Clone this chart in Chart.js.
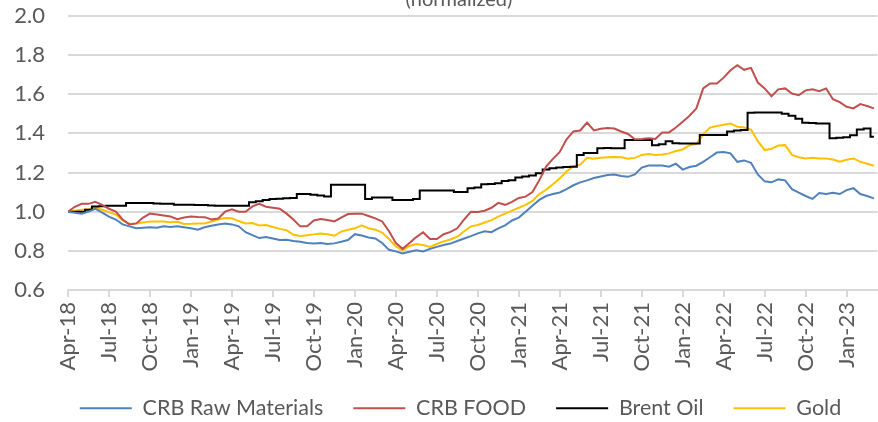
<!DOCTYPE html>
<html>
<head>
<meta charset="utf-8">
<script src="https://cdn.jsdelivr.net/npm/chart.js@4.4.1/dist/chart.umd.min.js"></script>
<style>
  html, body { margin: 0; padding: 0; background: #ffffff; }
  #wrap { width: 878px; height: 422px; position: relative; overflow: hidden; }
  canvas { display: block; }
</style>
</head>
<body>
<div id="wrap"><canvas id="c" width="878" height="422"></canvas></div>
<script>
// Quarterly tick labels (x value = months since Apr-18, every 3 months)
const tickLabels = ["Apr-18","Jul-18","Oct-18","Jan-19","Apr-19","Jul-19","Oct-19","Jan-20","Apr-20","Jul-20",
  "Oct-20","Jan-21","Apr-21","Jul-21","Oct-21","Jan-22","Apr-22","Jul-22","Oct-22","Jan-23"];

// Series sampled every half month from Apr-18
const crbRaw = [
  1.00,0.995,0.99,1.00,1.015,0.995,0.975,0.96,0.935,0.925,
  0.915,0.918,0.92,0.918,0.925,0.922,0.925,0.92,0.915,0.908,
  0.92,0.928,0.935,0.94,0.935,0.925,0.895,0.88,0.865,0.87,
  0.863,0.855,0.857,0.85,0.846,0.84,0.837,0.84,0.835,0.838,
  0.846,0.855,0.885,0.878,0.868,0.863,0.84,0.805,0.797,0.786,
  0.795,0.803,0.797,0.81,0.82,0.83,0.837,0.85,0.863,0.875,
  0.889,0.90,0.895,0.915,0.93,0.955,0.97,1.00,1.03,1.06,
  1.08,1.09,1.098,1.115,1.135,1.15,1.16,1.172,1.18,1.187,
  1.19,1.182,1.178,1.19,1.225,1.236,1.236,1.236,1.23,1.245,
  1.215,1.228,1.235,1.255,1.278,1.302,1.305,1.298,1.255,1.262,
  1.25,1.19,1.155,1.15,1.165,1.16,1.115,1.097,1.08,1.065,
  1.095,1.09,1.097,1.09,1.11,1.12,1.09,1.08,1.068
];
const crbFood = [
  1.00,1.025,1.04,1.04,1.05,1.035,1.015,1.00,0.96,0.935,
  0.94,0.97,0.99,0.985,0.98,0.975,0.962,0.97,0.975,0.973,
  0.972,0.96,0.965,1.00,1.012,1.00,1.00,1.027,1.04,1.025,
  1.02,1.015,0.99,0.96,0.925,0.925,0.955,0.962,0.957,0.95,
  0.97,0.988,0.99,0.99,0.978,0.966,0.95,0.90,0.84,0.81,
  0.84,0.87,0.895,0.86,0.86,0.885,0.897,0.915,0.96,1.00,
  0.998,1.005,1.02,1.045,1.035,1.05,1.07,1.077,1.10,1.16,
  1.23,1.27,1.305,1.37,1.41,1.415,1.455,1.415,1.424,1.428,
  1.425,1.41,1.397,1.37,1.372,1.375,1.372,1.405,1.405,1.43,
  1.46,1.49,1.528,1.63,1.655,1.655,1.685,1.723,1.749,1.725,
  1.735,1.66,1.63,1.59,1.625,1.63,1.604,1.595,1.62,1.625,
  1.616,1.63,1.575,1.56,1.536,1.528,1.55,1.54,1.528
];
const brentOil = [
  1.00,1.00,1.00,1.01,1.027,1.028,1.03,1.03,1.03,1.044,
  1.044,1.044,1.044,1.042,1.04,1.04,1.036,1.036,1.036,1.034,
  1.034,1.032,1.03,1.03,1.03,1.03,1.03,1.048,1.053,1.06,
  1.065,1.066,1.068,1.07,1.09,1.09,1.086,1.083,1.078,1.137,
  1.137,1.137,1.137,1.137,1.065,1.073,1.073,1.073,1.06,1.06,
  1.06,1.065,1.108,1.108,1.108,1.108,1.108,1.10,1.10,1.12,
  1.123,1.14,1.142,1.145,1.157,1.16,1.175,1.18,1.185,1.196,
  1.216,1.222,1.226,1.228,1.23,1.29,1.30,1.30,1.324,1.326,
  1.324,1.324,1.366,1.366,1.366,1.366,1.34,1.345,1.36,1.35,
  1.349,1.349,1.349,1.392,1.392,1.392,1.392,1.41,1.415,1.417,
  1.505,1.507,1.507,1.507,1.507,1.50,1.49,1.475,1.455,1.453,
  1.451,1.451,1.375,1.378,1.38,1.39,1.42,1.425,1.383
];
const gold = [
  1.00,1.005,1.01,1.012,1.02,1.01,0.998,0.985,0.955,0.937,
  0.94,0.945,0.95,0.95,0.95,0.946,0.948,0.937,0.938,0.94,
  0.94,0.95,0.96,0.968,0.966,0.952,0.94,0.942,0.93,0.932,
  0.922,0.912,0.905,0.882,0.876,0.88,0.884,0.889,0.885,0.877,
  0.898,0.908,0.915,0.93,0.915,0.908,0.893,0.86,0.822,0.803,
  0.825,0.835,0.83,0.82,0.835,0.848,0.858,0.872,0.90,0.925,
  0.932,0.945,0.957,0.975,0.99,1.005,1.02,1.035,1.055,1.09,
  1.112,1.14,1.17,1.205,1.232,1.24,1.275,1.27,1.275,1.278,
  1.28,1.278,1.27,1.275,1.29,1.295,1.29,1.292,1.298,1.31,
  1.318,1.34,1.345,1.395,1.43,1.438,1.444,1.451,1.434,1.43,
  1.42,1.36,1.315,1.322,1.338,1.34,1.29,1.278,1.272,1.275,
  1.272,1.272,1.267,1.255,1.265,1.272,1.255,1.245,1.235
];

const STEP = 0.5; // months between samples
const toPts = arr => arr.map((v, i) => ({ x: i * STEP, y: v }));

const FONT = "Lato, 'Open Sans', sans-serif";
const TXT = "#595959";

const topTitle = {
  id: 'topTitle',
  afterLayout(chart) {
    // move the legend block slightly right and up, as in the reference
    if (chart.legend) {
      chart.legend.left += 25; chart.legend.right += 25;
      chart.legend.top -= 9; chart.legend.bottom -= 9;
    }
  },
  afterDraw(chart) {
    const ctx = chart.ctx;
    ctx.save();
    ctx.font = "20px " + FONT;
    ctx.fillStyle = TXT;
    ctx.textAlign = 'center';
    ctx.textBaseline = 'alphabetic';
    ctx.fillText("(normalized)", 459, 6);
    // y-axis tick labels, placed through the y scale
    const ys = chart.scales.y;
    ctx.font = "22px " + FONT;
    ctx.textAlign = 'right';
    ctx.textBaseline = 'middle';
    ys.ticks.forEach(t => {
      ctx.fillText(t.value.toFixed(1), chart.chartArea.left - 23, ys.getPixelForValue(t.value));
    });
    ctx.restore();
  }
};

new Chart(document.getElementById('c'), {
  type: 'line',
  data: {
    datasets: [
      { label: 'CRB Raw Materials', data: toPts(crbRaw), borderColor: '#4F81BD', backgroundColor: '#4F81BD', borderWidth: 2 },
      { label: 'CRB FOOD', data: toPts(crbFood), borderColor: '#C0504D', backgroundColor: '#C0504D', borderWidth: 2 },
      { label: 'Brent Oil', data: toPts(brentOil), borderColor: '#000000', backgroundColor: '#000000', borderWidth: 2, stepped: 'middle' },
      { label: 'Gold', data: toPts(gold), borderColor: '#FFC000', backgroundColor: '#FFC000', borderWidth: 2 }
    ]
  },
  options: {
    responsive: false,
    animation: false,
    devicePixelRatio: 1,
    elements: {
      point: { radius: 0, hoverRadius: 0 },
      line: { borderWidth: 2, tension: 0, fill: false }
    },
    layout: { padding: { top: 16, left: -7, right: 0, bottom: -16 } },
    scales: {
      x: {
        type: 'linear',
        min: 0,
        max: 59.25,
        grid: { display: true, drawOnChartArea: false, drawTicks: true, tickLength: 7, color: '#d9d9d9', lineWidth: 2 },
        border: { display: true, color: '#d9d9d9', width: 2 },
        ticks: {
          stepSize: 3,
          includeBounds: false,
          autoSkip: false,
          minRotation: 90,
          maxRotation: 90,
          padding: 5,
          color: TXT,
          font: { family: FONT, size: 22 },
          callback: (v) => tickLabels[Math.round(v / 3)] ?? ''
        }
      },
      y: {
        min: 0.6,
        max: 2.0,
        grid: { color: '#d9d9d9', lineWidth: 2, drawTicks: false },
        border: { display: false },
        afterFit: (scale) => { scale.width = 75; scale.paddingTop = 0; scale.paddingBottom = 0; },
        ticks: {
          stepSize: 0.2,
          autoSkip: false,
          display: false
        }
      }
    },
    plugins: {
      legend: {
        position: 'bottom',
        labels: {
          usePointStyle: true,
          pointStyle: 'line',
          pointStyleWidth: 52,
          boxHeight: 22,
          padding: 30,
          color: TXT,
          font: { family: FONT, size: 21.5 }
        }
      },
      tooltip: { enabled: false },
      title: { display: false }
    }
  },
  plugins: [topTitle]
});
</script>
</body>
</html>
